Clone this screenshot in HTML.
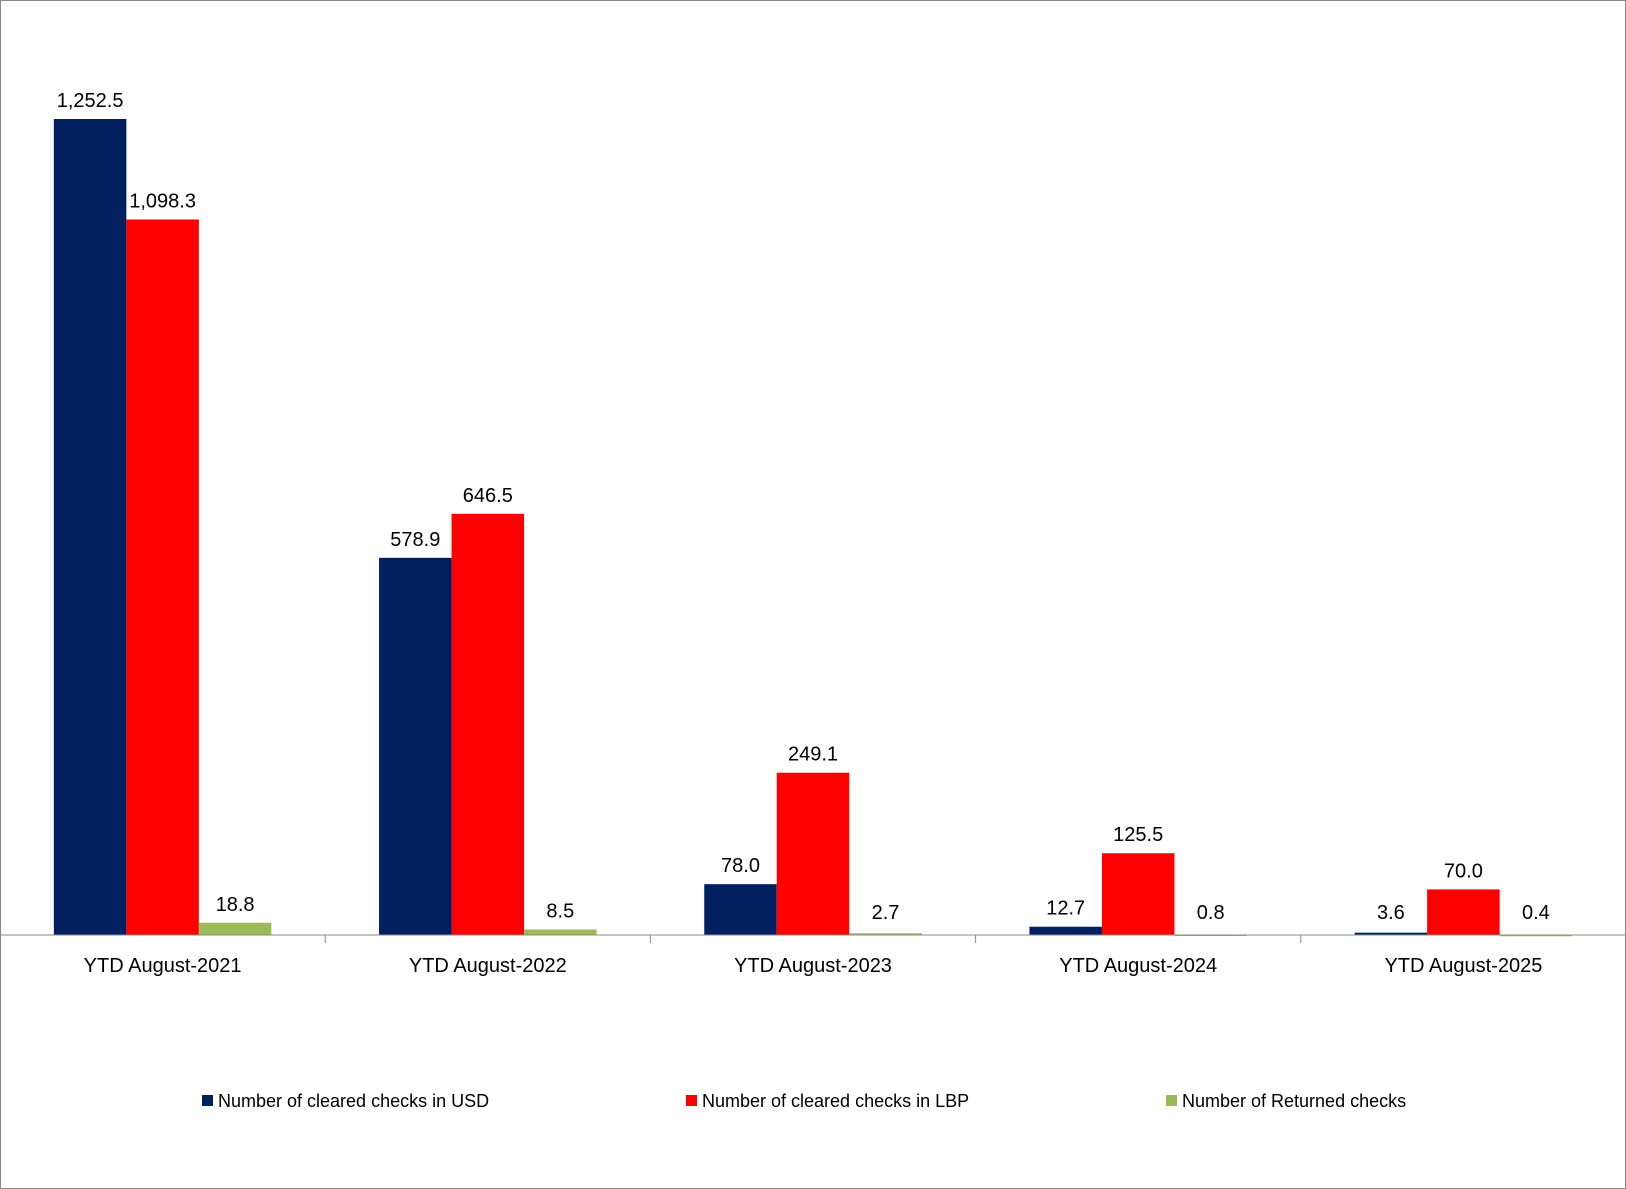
<!DOCTYPE html>
<html><head><meta charset="utf-8"><style>
html,body{margin:0;padding:0;background:#fff;}
svg{display:block;font-family:"Liberation Sans",sans-serif;}
</style></head><body>
<svg width="1626" height="1189" id="chart">
<rect x="0.5" y="0.5" width="1625" height="1188" fill="#fff" stroke="#888"/>
<g id="bars"></g>
<line x1="0" x2="1626" y1="935" y2="935" stroke="#888"/>
<g id="legend" font-size="18" fill="#000">
<rect x="202" y="1095" width="11" height="11" fill="#002060"/>
<text x="218" y="1107">Number of cleared checks in USD</text>
<rect x="686" y="1095" width="11" height="11" fill="#ff0000"/>
<text x="702" y="1107">Number of cleared checks in LBP</text>
<rect x="1166" y="1095" width="11" height="11" fill="#9bbb59"/>
<text x="1182" y="1107">Number of Returned checks</text>
</g>
</svg>
<script>
const categories=["YTD August-2021","YTD August-2022","YTD August-2023","YTD August-2024","YTD August-2025"];
const usd=[1252.5,578.9,78.0,12.7,3.6];
const lbp=[1098.3,646.5,249.1,125.5,70.0];
const returned=[18.8,8.5,2.7,0.8,0.4];
const seriesColors=["#002060","#ff0000","#9bbb59"];
const seriesNames=["usd","lbp","returned"];
const ns="http://www.w3.org/2000/svg";
const g=document.getElementById('bars');
const x0=0,x1=1626,axisY=935,pxPer=816/1252.5;
const catW=(x1-x0)/categories.length,barW=72.5,gap=(catW-3*barW)/2;
function y(v){return axisY-v*pxPer;}
function fmt(v){return v.toLocaleString('en-US',{minimumFractionDigits:1,maximumFractionDigits:1});}
const all=[usd,lbp,returned];
categories.forEach((c,i)=>{
  const cx=x0+i*catW;
  if(i>0){const t=document.createElementNS(ns,'line');
    
    
    t.setAttribute('x1',cx);t.setAttribute('x2',cx);t.setAttribute('y1',axisY);t.setAttribute('y2',axisY+8);t.setAttribute('stroke','#888');g.appendChild(t);}
  all.forEach((s,k)=>{
    const v=s[i];const bx=cx+gap+k*barW;
    const r=document.createElementNS(ns,'rect');
    
    
    r.setAttribute('x',bx);r.setAttribute('y',y(v));r.setAttribute('width',barW);r.setAttribute('height',Math.max(axisY-y(v),1.5));
    r.setAttribute('fill',seriesColors[k]);g.appendChild(r);
    const t=document.createElementNS(ns,'text');
    
    
    t.setAttribute('x',bx+barW/2);t.setAttribute('y',Math.min(y(v),axisY-4)-12);t.setAttribute('text-anchor','middle');t.setAttribute('font-size','20');
    t.textContent=fmt(v);g.appendChild(t);
  });
  const l=document.createElementNS(ns,'text');
  
  
  l.setAttribute('x',cx+catW/2);l.setAttribute('y',972);l.setAttribute('text-anchor','middle');l.setAttribute('font-size','20');
  l.textContent=c;g.appendChild(l);
});
</script>
</body></html>
